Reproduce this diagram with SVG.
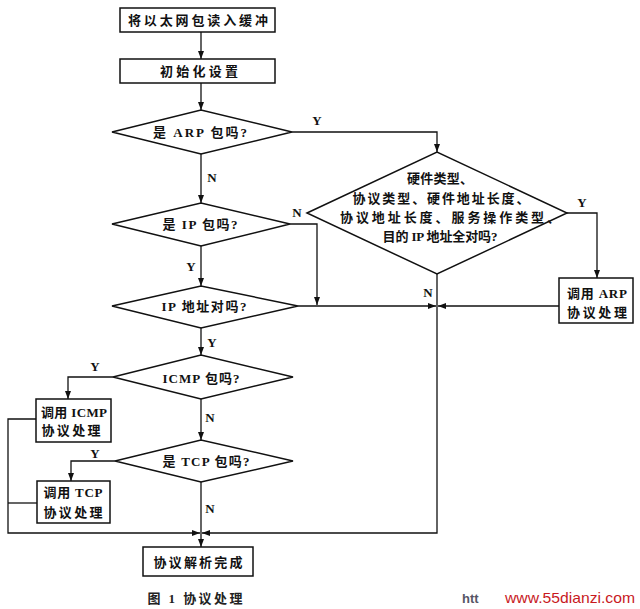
<svg xmlns="http://www.w3.org/2000/svg" width="640" height="609" viewBox="0 0 640 609">
<style>
.bg{fill:#fff}
.box{fill:#fff;stroke:#111;stroke-width:1.5}
.dm{fill:#fff;stroke:#111;stroke-width:1.5}
.ln{fill:none;stroke:#111;stroke-width:1.3}
.t{font-family:"Liberation Serif","Noto Sans CJK SC",serif;font-size:13px;font-weight:600;fill:#111;text-anchor:middle}
.lb{font-family:"Liberation Serif","Noto Sans CJK SC",serif;font-size:13px;font-weight:bold;fill:#111;text-anchor:middle}
.cap{font-family:"Liberation Serif","Noto Sans CJK SC",serif;font-size:13px;font-weight:600;fill:#222;text-anchor:middle}
</style>
<defs>
<marker id="ah" markerUnits="userSpaceOnUse" markerWidth="8" markerHeight="6" refX="8" refY="3" orient="auto">
<path d="M0,0 L8,3 L0,6 z" fill="#111"/>
</marker>
</defs>
<rect class="bg" x="0" y="0" width="640" height="609"/>

<g id="connectors">
<path class="ln" d="M201,32 V59" marker-end="url(#ah)"/>
<path class="ln" d="M201,83 V110" marker-end="url(#ah)"/>
<path class="ln" d="M201,154 V203" marker-end="url(#ah)"/>
<path class="ln" d="M292,132 H437 V152" marker-end="url(#ah)"/>
<path class="ln" d="M290,224 H317 V305" marker-end="url(#ah)"/>
<path class="ln" d="M201,246 V286" marker-end="url(#ah)"/>
<path class="ln" d="M298,306 H436" marker-end="url(#ah)"/>
<path class="ln" d="M559,306 H438" marker-end="url(#ah)"/>
<path class="ln" d="M201,328 V355" marker-end="url(#ah)"/>
<path class="ln" d="M113,377 H68 V399" marker-end="url(#ah)"/>
<path class="ln" d="M36,419 H8 V533 H200" marker-end="url(#ah)"/>
<path class="ln" d="M201,399 V440" marker-end="url(#ah)"/>
<path class="ln" d="M115,461 H71 V481" marker-end="url(#ah)"/>
<path class="ln" d="M37,503 H8"/>
<path class="ln" d="M201,482 V547" marker-end="url(#ah)"/>
<path class="ln" d="M437,274 V533 H202" marker-end="url(#ah)"/>
<path class="ln" d="M567,213 H597 V278" marker-end="url(#ah)"/>
<text class="lb" x="317" y="125">Y</text>
<text class="lb" x="212" y="182">N</text>
<text class="lb" x="297" y="217">N</text>
<text class="lb" x="191" y="271">Y</text>
<text class="lb" x="212" y="347">Y</text>
<text class="lb" x="95" y="371">Y</text>
<text class="lb" x="210" y="422">N</text>
<text class="lb" x="95" y="458">Y</text>
<text class="lb" x="210" y="513">N</text>
<text class="lb" x="582" y="207">Y</text>
<text class="lb" x="428" y="297">N</text>
</g>

<g id="n-read">
<rect class="box" x="120" y="8" width="155" height="24"/>
<text class="t" x="198" y="25" textLength="140" lengthAdjust="spacing">将以太网包读入缓冲</text>
</g>
<g id="n-init">
<rect class="box" x="120" y="59" width="155" height="24"/>
<text class="t" x="199" y="76" textLength="78" lengthAdjust="spacing">初始化设置</text>
</g>
<g id="n-arp">
<polygon class="dm" points="112,132 201,110 292,132 201,154"/>
<text class="t" x="200" y="137" textLength="94" lengthAdjust="spacing">是 ARP 包吗?</text>
</g>
<g id="n-ip">
<polygon class="dm" points="112,224 201,203 290,224 201,246"/>
<text class="t" x="200" y="229" textLength="75" lengthAdjust="spacing">是 IP 包吗?</text>
</g>
<g id="n-ipaddr">
<polygon class="dm" points="112,306 201,286 298,306 201,328"/>
<text class="t" x="204" y="311" textLength="85" lengthAdjust="spacing">IP 地址对吗?</text>
</g>
<g id="n-icmp">
<polygon class="dm" points="113,377 201,355 293,377 201,399"/>
<text class="t" x="201" y="383" textLength="77" lengthAdjust="spacing">ICMP 包吗?</text>
</g>
<g id="n-tcp">
<polygon class="dm" points="115,461 201,440 293,461 201,482"/>
<text class="t" x="206" y="466" textLength="87" lengthAdjust="spacing">是 TCP 包吗?</text>
</g>
<g id="n-check">
<polygon class="dm" points="307,213 437,152 567,213 437,274"/>
<text class="t" x="440" y="183" textLength="66" lengthAdjust="spacing">硬件类型、</text>
<text class="t" x="441" y="203" textLength="177" lengthAdjust="spacing">协议类型、硬件地址长度、</text>
<text class="t" x="450" y="222" textLength="220" lengthAdjust="spacing">协议地址长度、服务操作类型、</text>
<text class="t" x="440" y="241" textLength="115" lengthAdjust="spacing">目的 IP 地址全对吗?</text>
</g>
<g id="n-arpproc">
<rect class="box" x="559" y="278" width="74" height="45"/>
<text class="t" x="597" y="298" textLength="60" lengthAdjust="spacing">调用 ARP</text>
<text class="t" x="597" y="317" textLength="60" lengthAdjust="spacing">协议处理</text>
</g>
<g id="n-icmpproc">
<rect class="box" x="36" y="399" width="75" height="43"/>
<text class="t" x="74" y="417" textLength="66" lengthAdjust="spacing">调用 ICMP</text>
<text class="t" x="71" y="435" textLength="59" lengthAdjust="spacing">协议处理</text>
</g>
<g id="n-tcpproc">
<rect class="box" x="37" y="481" width="73" height="42"/>
<text class="t" x="73" y="497" textLength="59" lengthAdjust="spacing">调用 TCP</text>
<text class="t" x="73" y="517" textLength="59" lengthAdjust="spacing">协议处理</text>
</g>
<g id="n-done">
<rect class="box" x="143" y="547" width="110" height="29"/>
<text class="t" x="198" y="567" textLength="89" lengthAdjust="spacing">协议解析完成</text>
</g>

<text class="cap" x="195" y="603" textLength="95" lengthAdjust="spacing">图 1 协议处理</text>
<text x="462" y="603" font-family="Liberation Sans, sans-serif" font-size="13" font-weight="bold" fill="#556">htt</text>
<text x="505" y="603" font-family="Liberation Sans, sans-serif" font-size="15" fill="#c8191e" textLength="130" lengthAdjust="spacingAndGlyphs">www.55dianzi.com</text>
</svg>
